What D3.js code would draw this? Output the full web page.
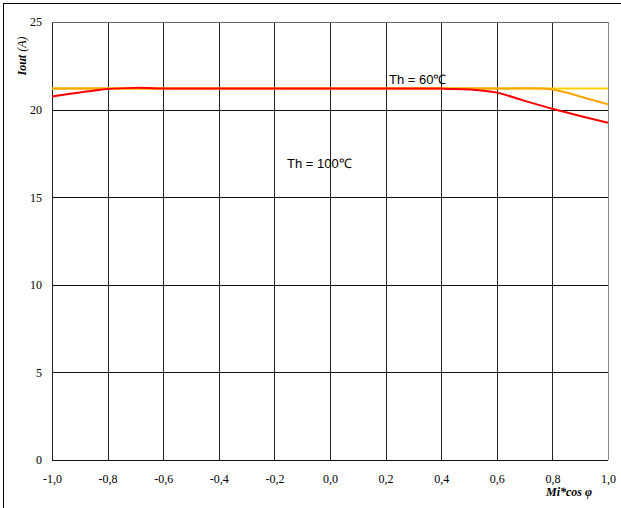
<!DOCTYPE html>
<html>
<head>
<meta charset="utf-8">
<script src="https://cdn.jsdelivr.net/npm/d3@7"></script>
<style>
  body { margin: 0; background: #fff; }
  svg { display: block; }
</style>
</head>
<body>
<script>
// data
var xValues = [-1.0, -0.9, -0.8, -0.7, -0.6, -0.5, -0.4, -0.3, -0.2, -0.1, 0.0, 0.1, 0.2, 0.3, 0.4, 0.5, 0.6, 0.7, 0.8, 0.9, 1.0];
var th60a = [21.2, 21.2, 21.2, 21.2, 21.2, 21.2, 21.2, 21.2, 21.2, 21.2, 21.2, 21.2, 21.2, 21.2, 21.2, 21.2, 21.2, 21.2, 21.2, 21.2, 21.2];
var th60b = [21.2, 21.2, 21.2, 21.2, 21.2, 21.2, 21.2, 21.2, 21.2, 21.2, 21.2, 21.2, 21.2, 21.2, 21.2, 21.2, 21.2, 21.22, 21.15, 20.75, 20.3];
var th100 = [20.75, 20.98, 21.18, 21.24, 21.21, 21.2, 21.2, 21.2, 21.2, 21.2, 21.2, 21.2, 21.2, 21.2, 21.2, 21.15, 20.97, 20.5, 20.05, 19.64, 19.25];
var xTicks = [-1.0, -0.8, -0.6, -0.4, -0.2, 0.0, 0.2, 0.4, 0.6, 0.8, 1.0];
var yTicks = [0, 5, 10, 15, 20, 25];

var width = 621, height = 508;
var svg = d3.select('body').append('svg')
	.attr('width', width).attr('height', height);

// outer frame
svg.append('rect')
	.attr('x', 3.5).attr('y', 3.5)
	.attr('width', 630).attr('height', 520)
	.attr('fill', 'none').attr('stroke', '#000');

var x = d3.scaleLinear().domain([-1, 1]).range([52, 608]);
var y = d3.scaleLinear().domain([0, 25]).range([460, 22]);

// grid
svg.append('g').selectAll('line').data(xTicks).enter().append('line')
	.attr('x1', function (d) { return Math.round(x(d)) + 0.5; })
	.attr('x2', function (d) { return Math.round(x(d)) + 0.5; })
	.attr('y1', y(25)).attr('y2', y(0))
	.attr('stroke', function (d) { return d === 1 ? '#888' : '#222'; });

svg.append('g').selectAll('line').data(yTicks).enter().append('line')
	.attr('y1', function (d) { return Math.round(y(d)) + 0.5; })
	.attr('y2', function (d) { return Math.round(y(d)) + 0.5; })
	.attr('x1', x(-1)).attr('x2', x(1))
	.attr('stroke', function (d) { return d === 25 ? '#666' : '#111'; });

// axes labels
var xAxis = d3.axisBottom(x).tickValues(xTicks).tickSize(0).tickPadding(0)
	.tickFormat(function (d) { return d3.format('.1f')(d).replace('.', ',').replace('−', '-'); });
var gx = svg.append('g').attr('transform', 'translate(0,' + 474 + ')').call(xAxis);
gx.select('.domain').remove();
gx.selectAll('text')
	.attr('font-family', '"Liberation Serif", "Times New Roman", serif')
	.attr('font-size', 12).attr('fill', '#000');

var yAxis = d3.axisLeft(y).tickValues(yTicks).tickSize(0).tickPadding(0);
var gy = svg.append('g').attr('transform', 'translate(42,0)').call(yAxis);
gy.select('.domain').remove();
gy.selectAll('text')
	.attr('font-family', '"Liberation Serif", "Times New Roman", serif')
	.attr('font-size', 12).attr('fill', '#000');

// lines
var line = d3.line()
	.x(function (d) { return x(d[0]); })
	.y(function (d) { return y(d[1]); })
	.curve(d3.curveCatmullRom.alpha(0.5));

var series = [
	{ values: th60a, color: '#FFD200' },
	{ values: th60b, color: '#FFA500' },
	{ values: th100, color: '#FF0000' }
];
svg.append('g').selectAll('path').data(series).enter().append('path')
	.attr('fill', 'none')
	.attr('stroke', function (d) { return d.color; })
	.attr('stroke-width', 2)
	.attr('d', function (d) {
		return line(xValues.map(function (v, i) { return [v, d.values[i]]; }));
	});

// annotations
svg.append('text').attr('x', 389).attr('y', 84)
	.attr('font-family', '"Liberation Sans", Arial, sans-serif')
	.attr('font-size', 13).text('Th = 60℃');
svg.append('text').attr('x', 287).attr('y', 168)
	.attr('font-family', '"Liberation Sans", Arial, sans-serif')
	.attr('font-size', 13).text('Th = 100℃');

// axis titles
var yt = svg.append('text')
	.attr('transform', 'translate(26,56) rotate(-90)')
	.attr('text-anchor', 'middle')
	.attr('font-family', '"Liberation Serif", "Times New Roman", serif')
	.attr('font-size', 12).attr('font-style', 'italic');
yt.append('tspan').attr('font-weight', 'bold').text('Iout');
yt.append('tspan').text(' (A)');

svg.append('text').attr('x', 569).attr('y', 496)
	.attr('text-anchor', 'middle')
	.attr('font-family', '"Liberation Serif", "Times New Roman", serif')
	.attr('font-size', 12).attr('font-style', 'italic').attr('font-weight', 'bold')
	.text('Mi*cos φ');
</script>
</body>
</html>
